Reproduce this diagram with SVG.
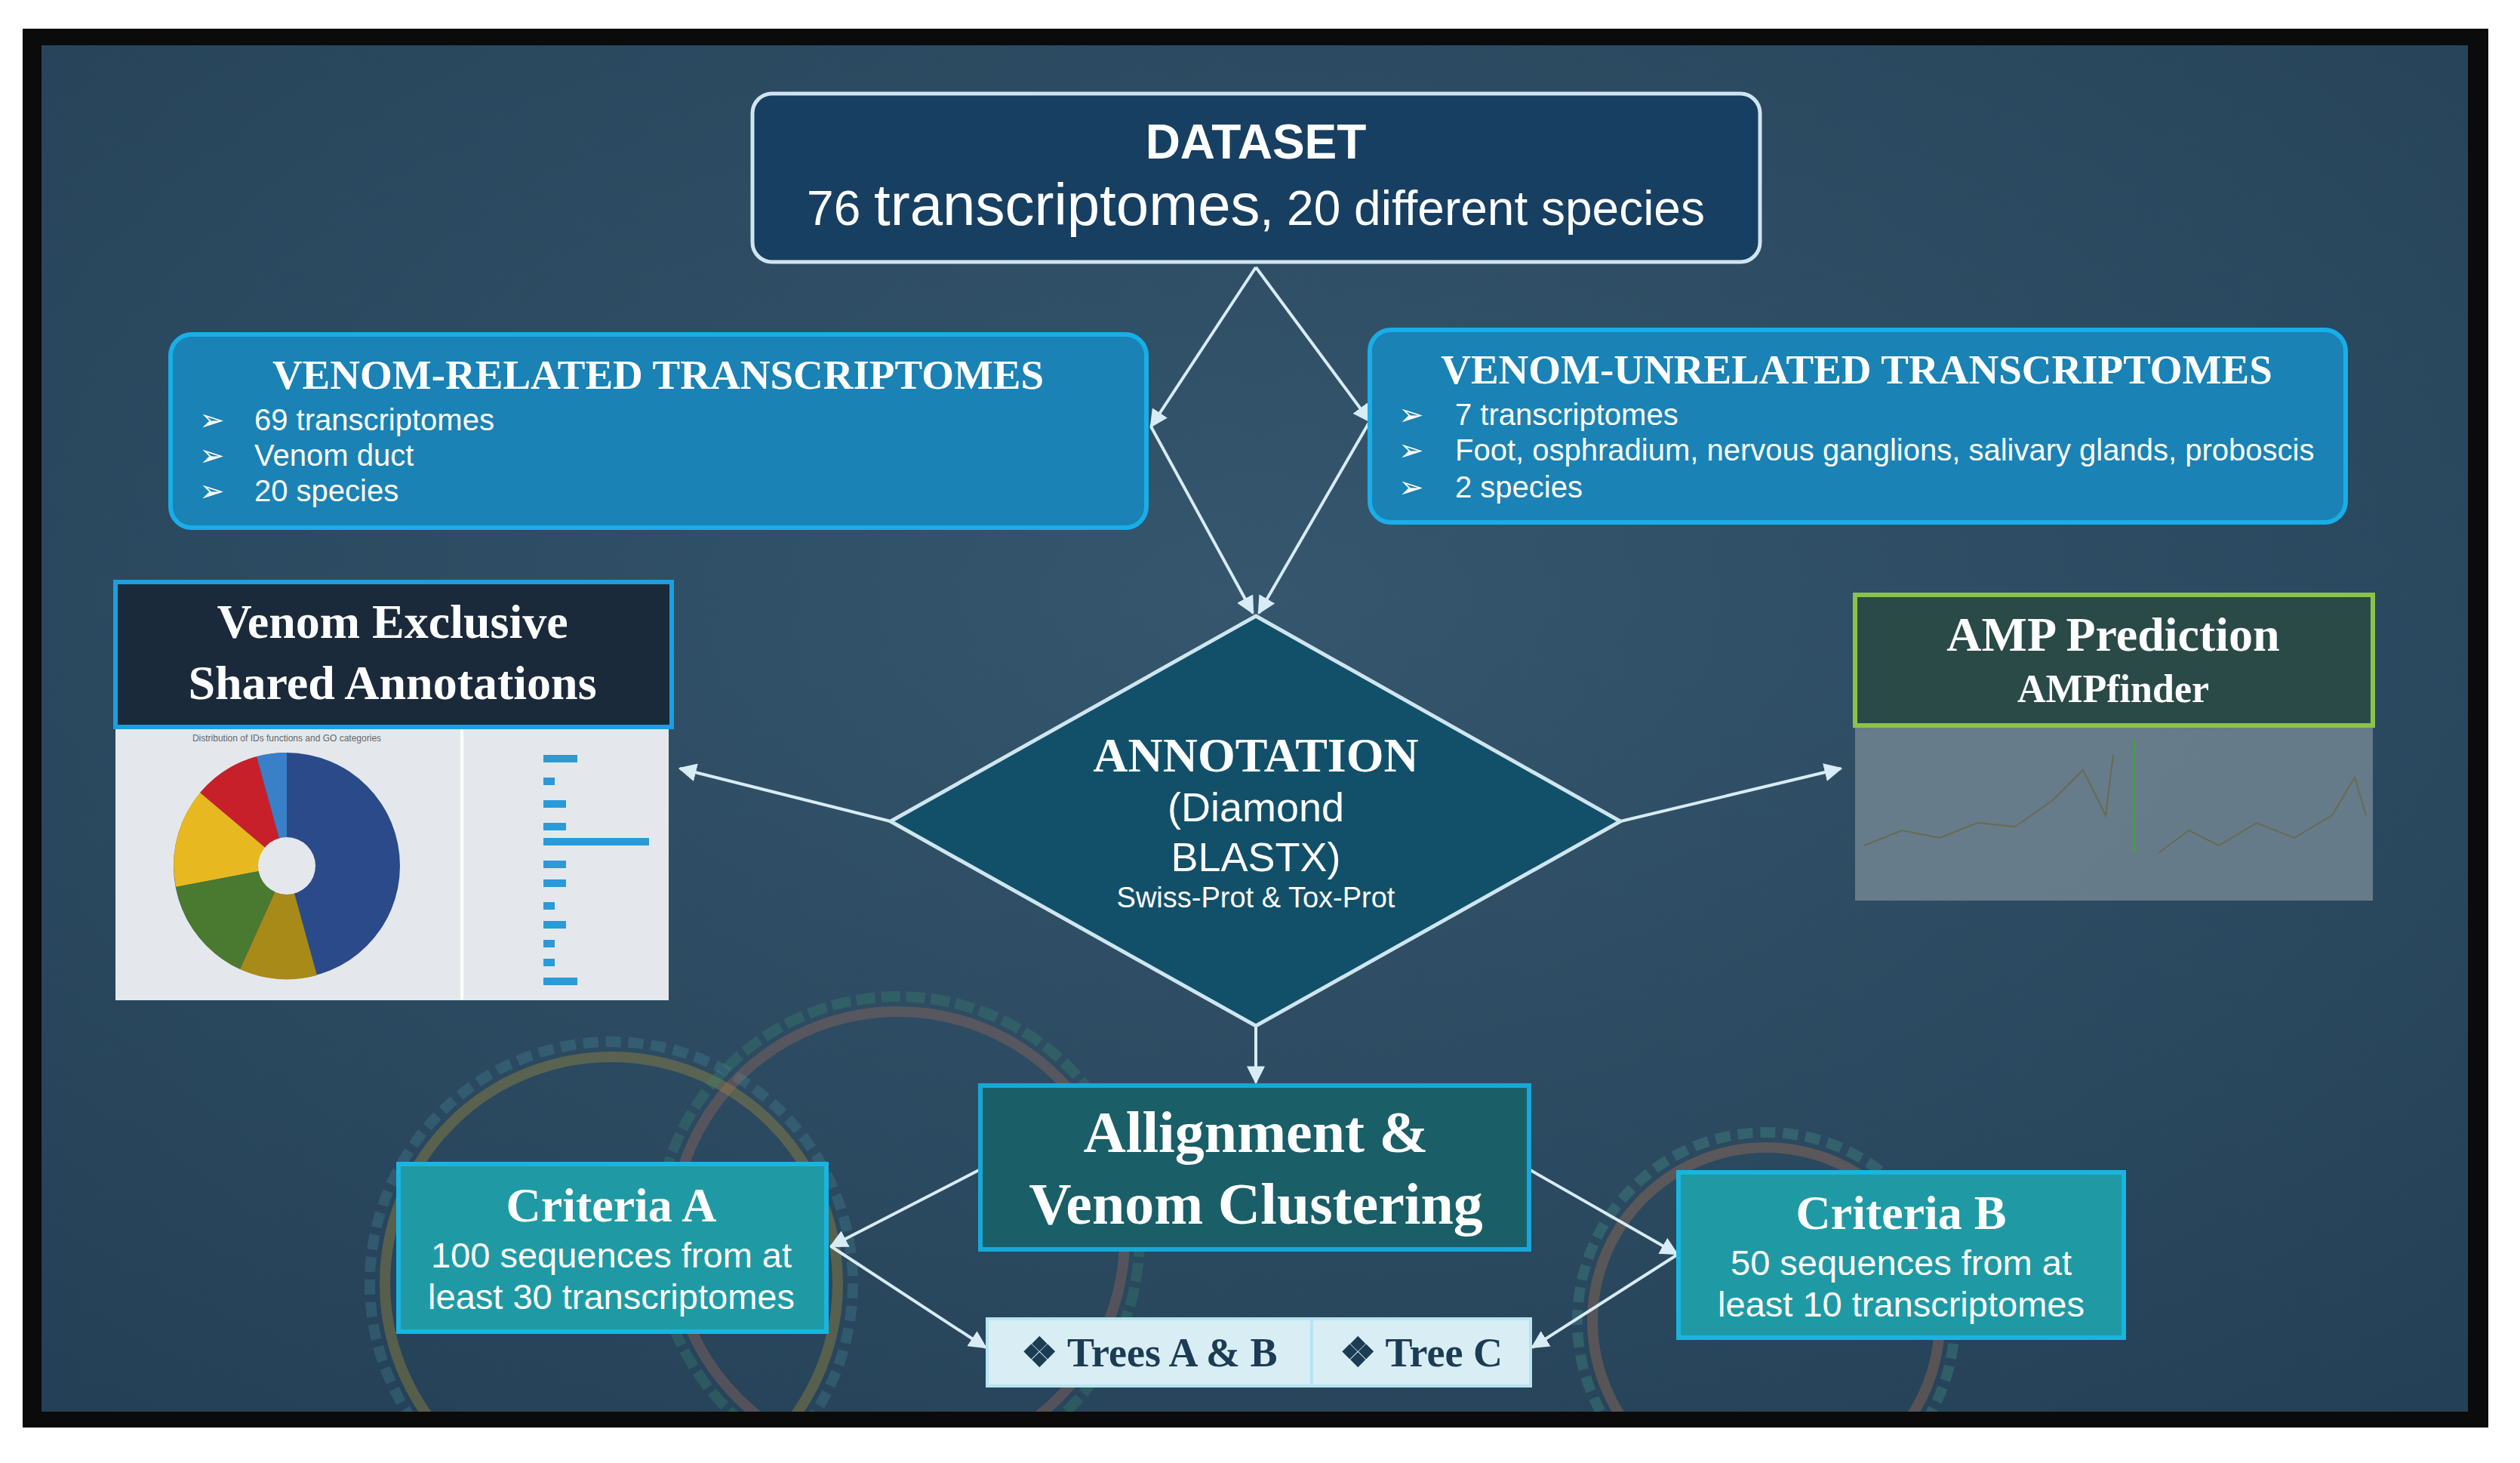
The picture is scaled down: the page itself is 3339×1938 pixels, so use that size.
<svg xmlns="http://www.w3.org/2000/svg" width="3339" height="1938" viewBox="0 0 3339 1938">
<defs>
<radialGradient id="bg" cx="0.5" cy="0.4" r="0.8"><stop offset="0" stop-color="#35566d"/><stop offset="1" stop-color="#233f55"/></radialGradient>
<clipPath id="panel"><rect x="55" y="60" width="3215" height="1810"/></clipPath>
<marker id="ah" viewBox="0 0 10 10" refX="9" refY="5" markerWidth="6" markerHeight="6" orient="auto"><path d="M0,0L10,5L0,10z" fill="#d8ecf6"/></marker>
<style>
.serif{font-family:"Liberation Serif","DejaVu Serif",serif;font-weight:bold;fill:#fff}
.sans{font-family:"Liberation Sans","DejaVu Sans",sans-serif;fill:#fff}
.con{stroke:#d8ecf6;stroke-width:4;fill:none;marker-end:url(#ah)}
.ring{fill:none;stroke-width:14;opacity:0.3}
</style>
</defs>
<rect width="3339" height="1938" fill="#fff"/>
<rect x="30" y="38" width="3267" height="1853" fill="#0b0b0b"/>
<rect x="55" y="60" width="3215" height="1810" fill="url(#bg)"/>
<g id="rings" clip-path="url(#panel)">
<circle cx="810" cy="1700" r="300" class="ring" stroke="#c8a030"/>
<circle cx="810" cy="1700" r="320" class="ring" stroke="#4a8a9a" stroke-dasharray="20 10"/>
<circle cx="1190" cy="1640" r="300" class="ring" stroke="#b8705a"/>
<circle cx="1190" cy="1640" r="320" class="ring" stroke="#3d8a70" stroke-dasharray="25 8"/>
<circle cx="2340" cy="1750" r="230" class="ring" stroke="#c87a50"/>
<circle cx="2340" cy="1750" r="250" class="ring" stroke="#4a9a8a" stroke-dasharray="20 10"/>
</g>
<g id="connectors">
<line x1="1664" y1="354" x2="1525" y2="565" class="con"/>
<line x1="1664" y1="354" x2="1815" y2="558" class="con"/>
<line x1="1525" y1="565" x2="1660" y2="812" class="con"/>
<line x1="1815" y1="558" x2="1668" y2="812" class="con"/>
<line x1="1180" y1="1088" x2="901" y2="1018" class="con"/>
<line x1="2147" y1="1088" x2="2439" y2="1018" class="con"/>
<line x1="1664" y1="1359" x2="1664" y2="1434" class="con"/>
<line x1="1299" y1="1549" x2="1101" y2="1651" class="con"/>
<line x1="1101" y1="1651" x2="1306" y2="1785" class="con"/>
<line x1="2026" y1="1549" x2="2222" y2="1661" class="con"/>
<line x1="2224" y1="1661" x2="2030" y2="1785" class="con"/>
</g>
<g id="dataset">
<rect x="997" y="124" width="1335" height="223" rx="26" fill="#173f62" stroke="#d0e4f0" stroke-width="5"/>
<text x="1664" y="210" text-anchor="middle" class="sans" font-size="64" font-weight="bold">DATASET</text>
<text x="1664" y="298" text-anchor="middle" class="sans" font-size="64">76 <tspan font-size="78">transcriptomes</tspan>, 20 different species</text>
</g>
<g id="venom-related">
<rect x="226" y="443" width="1293" height="256" rx="28" fill="#1a82b4" stroke="#18aee8" stroke-width="6"/>
<text x="872" y="515" text-anchor="middle" class="serif" font-size="55">VENOM-RELATED TRANSCRIPTOMES</text>
<text class="sans" font-size="40"><tspan x="264" y="570">➢</tspan><tspan x="337" y="570">69 transcriptomes</tspan><tspan x="264" y="617">➢</tspan><tspan x="337" y="617">Venom duct</tspan><tspan x="264" y="664">➢</tspan><tspan x="337" y="664">20 species</tspan></text>
</g>
<g id="venom-unrelated">
<rect x="1815" y="437" width="1293" height="255" rx="28" fill="#1a82b4" stroke="#18aee8" stroke-width="6"/>
<text x="2460" y="508" text-anchor="middle" class="serif" font-size="55">VENOM-UNRELATED TRANSCRIPTOMES</text>
<text class="sans" font-size="40"><tspan x="1853" y="563">➢</tspan><tspan x="1928" y="563">7 transcriptomes</tspan><tspan x="1853" y="610">➢</tspan><tspan x="1928" y="610">Foot, osphradium, nervous ganglions, salivary glands, proboscis</tspan><tspan x="1853" y="659">➢</tspan><tspan x="1928" y="659">2 species</tspan></text>
</g>
<g id="annotation">
<polygon points="1664,816 2147,1088 1664,1359 1180,1088" fill="#12506a" stroke="#cfe6f0" stroke-width="5"/>
<text x="1664" y="1022" text-anchor="middle" class="serif" font-size="64">ANNOTATION</text>
<text x="1664" y="1088" text-anchor="middle" class="sans" font-size="54">(Diamond</text>
<text x="1664" y="1154" text-anchor="middle" class="sans" font-size="54">BLASTX)</text>
<text x="1664" y="1202" text-anchor="middle" class="sans" font-size="38">Swiss-Prot &amp; Tox-Prot</text>
</g>
<g id="venom-exclusive">
<rect x="153" y="963" width="733" height="362" fill="#e4e8ec"/>
<rect x="610" y="963" width="4" height="362" fill="#fff"/>
<text x="380" y="982" text-anchor="middle" font-family="Liberation Sans,sans-serif" font-size="12" fill="#666">Distribution of IDs functions and GO categories</text>
<circle cx="380" cy="1147" r="150" fill="#2a4a8a"/>
<path d="M380,1147 L265,1050 A150,150 0 0 1 340,1002 Z" fill="#c8202a"/>
<path d="M380,1147 L340,1002 A150,150 0 0 1 380,997 Z" fill="#3a80c8"/>
<path d="M380,1147 L233,1175 A150,150 0 0 1 265,1050 Z" fill="#e8b820"/>
<path d="M380,1147 L318,1284 A150,150 0 0 1 233,1175 Z" fill="#4a7a30"/>
<path d="M380,1147 L420,1292 A150,150 0 0 1 318,1284 Z" fill="#a88a18"/>
<circle cx="380" cy="1147" r="38" fill="#e4e8ec"/>
<g fill="#2a9ad8"><rect x="720" y="1000" width="45" height="10"/><rect x="720" y="1030" width="15" height="10"/><rect x="720" y="1060" width="30" height="10"/><rect x="720" y="1090" width="30" height="10"/><rect x="720" y="1110" width="140" height="10"/><rect x="720" y="1140" width="30" height="10"/><rect x="720" y="1165" width="30" height="10"/><rect x="720" y="1195" width="15" height="10"/><rect x="720" y="1220" width="30" height="10"/><rect x="720" y="1245" width="15" height="10"/><rect x="720" y="1270" width="15" height="10"/><rect x="720" y="1295" width="45" height="10"/></g>
<rect x="153" y="771" width="737" height="192" fill="#1b2a3a" stroke="#1aa0e0" stroke-width="6"/>
<text x="520" y="845" text-anchor="middle" class="serif" font-size="64">Venom Exclusive</text>
<text x="520" y="926" text-anchor="middle" class="serif" font-size="64">Shared Annotations</text>
</g>
<g id="amp">
<rect x="2458" y="963" width="686" height="230" fill="#7a8c98" opacity="0.75"/>
<polyline points="2470,1120 2520,1100 2570,1110 2620,1090 2670,1095 2720,1060 2760,1020 2790,1080 2800,1000" fill="none" stroke="#6a6a50" stroke-width="2"/>
<polyline points="2860,1130 2900,1100 2940,1120 2990,1090 3040,1110 3090,1080 3120,1030 3135,1080" fill="none" stroke="#6a6a50" stroke-width="2"/>
<rect x="2826" y="980" width="4" height="150" fill="#4a9a4a"/>
<rect x="2458" y="788" width="686" height="173" fill="#2a4a48" stroke="#8bc34a" stroke-width="6"/>
<text x="2800" y="862" text-anchor="middle" class="serif" font-size="64">AMP Prediction</text>
<text x="2800" y="930" text-anchor="middle" class="serif" font-size="52">AMPfinder</text>
</g>
<g id="alignment">
<rect x="1299" y="1438" width="727" height="217" fill="#1a5e68" stroke="#17a8d8" stroke-width="6"/>
<text x="1664" y="1526" text-anchor="middle" class="serif" font-size="78">Allignment &amp;</text>
<text x="1664" y="1621" text-anchor="middle" class="serif" font-size="78">Venom Clustering</text>
</g>
<g id="criteria-a">
<rect x="528" y="1542" width="567" height="222" fill="#1f9aa4" stroke="#18b5e0" stroke-width="6"/>
<text x="810" y="1618" text-anchor="middle" class="serif" font-size="64">Criteria A</text>
<text x="810" y="1679" text-anchor="middle" class="sans" font-size="47">100 sequences from at</text>
<text x="810" y="1734" text-anchor="middle" class="sans" font-size="47">least 30 transcriptomes</text>
</g>
<g id="criteria-b">
<rect x="2224" y="1553" width="590" height="219" fill="#1f9aa4" stroke="#18b5e0" stroke-width="6"/>
<text x="2519" y="1628" text-anchor="middle" class="serif" font-size="64">Criteria B</text>
<text x="2519" y="1689" text-anchor="middle" class="sans" font-size="47">50 sequences from at</text>
<text x="2519" y="1744" text-anchor="middle" class="sans" font-size="47">least 10 transcriptomes</text>
</g>
<g id="trees">
<rect x="1308" y="1747" width="720" height="89" fill="#d8eef4" stroke="#b8e4f0" stroke-width="4"/>
<line x1="1738" y1="1747" x2="1738" y2="1836" stroke="#b8e4f0" stroke-width="4"/>
<text x="1523" y="1810" text-anchor="middle" font-family="Liberation Serif,serif" font-weight="bold" font-size="54" fill="#1c3c55">❖ Trees A &amp; B</text>
<text x="1883" y="1810" text-anchor="middle" font-family="Liberation Serif,serif" font-weight="bold" font-size="54" fill="#1c3c55">❖ Tree C</text>
</g>
</svg>
